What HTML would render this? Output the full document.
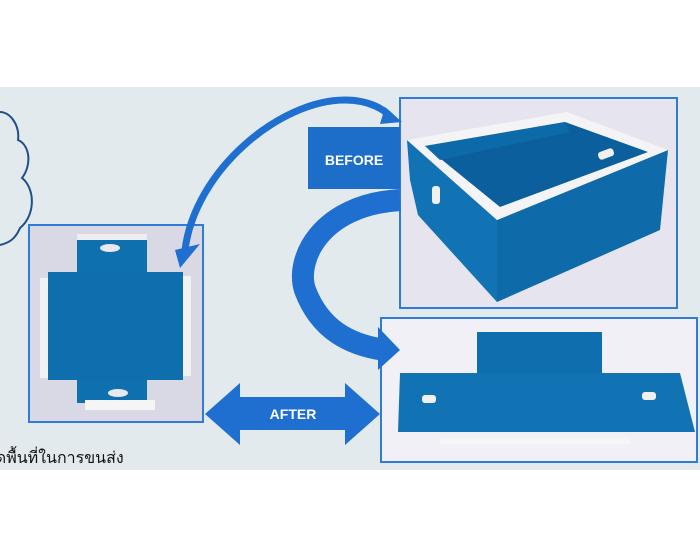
<!DOCTYPE html>
<html><head><meta charset="utf-8"><style>
body{margin:0;width:700px;height:560px;background:#fff;overflow:hidden;position:relative;font-family:"Liberation Sans",sans-serif}
</style></head><body>
<svg width="700" height="560" style="position:absolute;left:0;top:0">
<rect x="0" y="87" width="700" height="383" fill="#e3eaee"/>
<path d="M0 112 C10 112 20 125 18 140 C30 145 32 165 22 178 C35 188 36 215 20 228 C15 240 8 243 0 245" fill="none" stroke="#1f4f86" stroke-width="2"/>
<rect x="29" y="225" width="174" height="197" fill="#d9d9e6" stroke="#2f7bd6" stroke-width="2"/>
<rect x="77" y="238" width="70" height="165" fill="#0f70b0"/>
<rect x="48" y="272" width="135" height="108" fill="#0f6fae"/>
<rect x="40" y="278" width="8" height="100" fill="#f2f2f2"/>
<rect x="183" y="276" width="8" height="100" fill="#f2f2f2"/>
<rect x="85" y="400" width="70" height="10" fill="#f5f5f5"/>
<rect x="77" y="234" width="70" height="6" fill="#eeeeee"/>
<ellipse cx="110" cy="248" rx="10" ry="4" fill="#e8e8ee"/>
<ellipse cx="118" cy="393" rx="10" ry="4" fill="#e8e8ee"/>
<rect x="400" y="98" width="277" height="210" fill="#e6e4ee" stroke="#2f7bd6" stroke-width="2"/>
<polygon points="407,140 497,220 497,302 418,215 410,180" fill="#1172b4"/>
<polygon points="497,220 668,150 660,230 497,302" fill="#0e6aa8"/>
<polygon points="407,140 567,112 668,150 497,220" fill="#f4f4f6"/>
<polygon points="425,146 565,122 648,152 500,207" fill="#0a5f9c"/>
<polygon points="425,146 565,122 570,132 440,160" fill="#0d6aa8"/>
<rect x="598" y="150" width="16" height="8" rx="3" fill="#f0f0f0" transform="rotate(-20 606 154)"/>
<rect x="432" y="186" width="8" height="18" rx="3" fill="#f0f0f0"/>
<rect x="381" y="318" width="316" height="144" fill="#f0f0f6" stroke="#2f7bd6" stroke-width="2"/>
<rect x="477" y="332" width="125" height="44" fill="#0f6fae"/>
<polygon points="400,373 680,373 695,432 398,432" fill="#1173b4"/>
<rect x="440" y="438" width="190" height="6" fill="#f6f6f6"/>
<rect x="422" y="395" width="14" height="8" rx="3" fill="#f0f0f0"/>
<rect x="642" y="392" width="14" height="8" rx="3" fill="#f0f0f0"/>
<rect x="308" y="127" width="92" height="62" fill="#1d6ec9"/>
<text x="354" y="165" fill="#fff" font-size="14" font-weight="bold" text-anchor="middle">BEFORE</text>
<path d="M185 250 C195 170 280 100 345 100 C370 100 385 110 392 118" fill="none" stroke="#1f6fd0" stroke-width="7"/>
<polygon points="175,250 200,244 180,268" fill="#1f6fd0"/>
<polygon points="385,107 402,122 380,124" fill="#1f6fd0"/>
<path d="M400 200 C320 205 295 260 305 290 C320 330 350 345 385 350" fill="none" stroke="#1f6fd0" stroke-width="22"/>
<polygon points="378,327 400,350 378,370" fill="#1f6fd0"/>
<polygon points="205,414 240,383 240,397 345,397 345,383 380,414 345,445 345,430 240,430 240,445" fill="#1f6fd0"/>
<text x="293" y="419" fill="#fff" font-size="14" font-weight="bold" text-anchor="middle">AFTER</text>
<text x="-14" y="463" fill="#111" font-size="16" font-family="Liberation Sans, Noto Sans CJK SC, sans-serif">ลดพื้นที่ในการขนส่ง</text>
</svg>
</body></html>
